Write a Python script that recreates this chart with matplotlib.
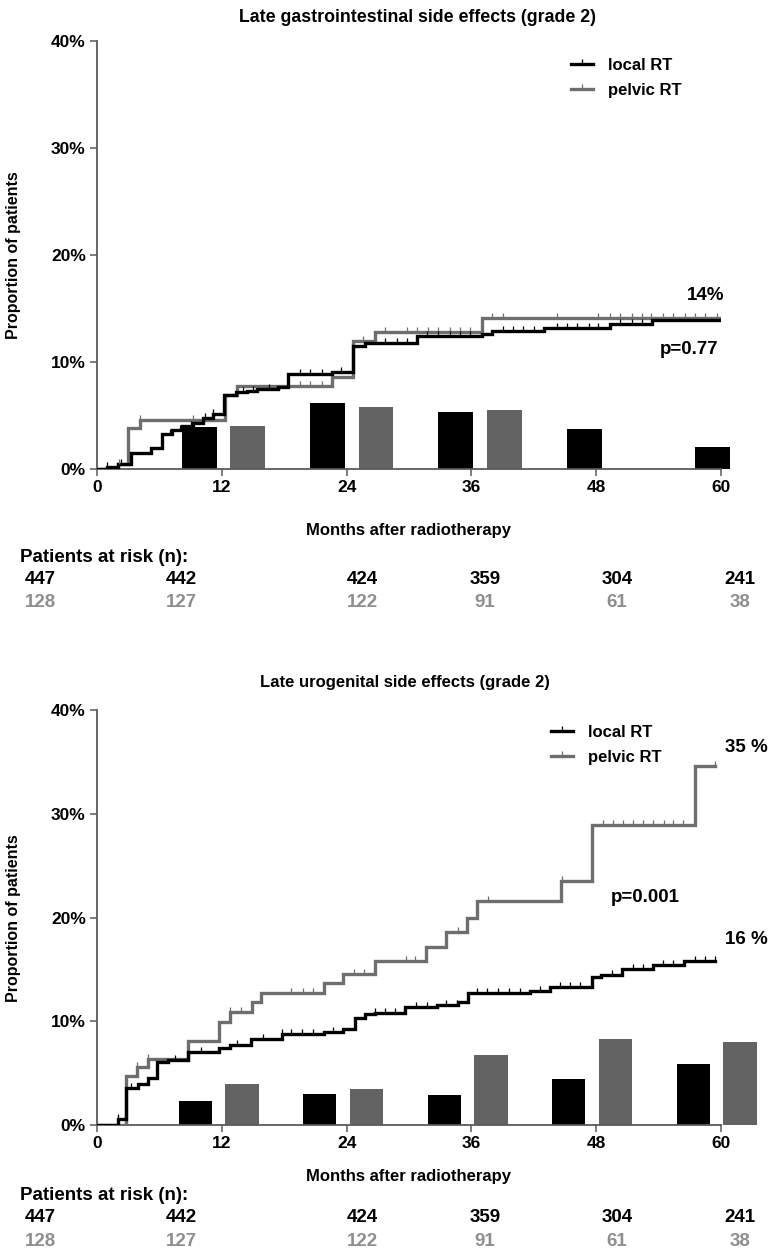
import numpy as np
import matplotlib
matplotlib.use("Agg")
import matplotlib.pyplot as plt
from matplotlib import font_manager
from matplotlib.lines import Line2D

# ---------------- data ----------------
month_ticks = [0, 12, 24, 36, 48, 60]
pct_ticks = [0, 10, 20, 30, 40]
bar_intervals = [12, 24, 36, 48, 60]

# Late GI side effects (grade 2) - cumulative incidence (%)
gi_local_t = [0, 1.0, 2.0, 3.3, 5.2, 6.25, 7.2, 8.2, 9.2, 10.2, 11.2, 12.2, 13.4, 14.4, 15.4, 17.4,
              18.4, 22.6, 24.6, 25.8, 30.8, 37.0, 38.0, 43.0, 49.3, 53.4, 60.0]
gi_local_y = [0, 0.2, 0.5, 1.5, 2.0, 3.3, 3.6, 4.0, 4.3, 4.8, 5.1, 6.9, 7.2, 7.3, 7.5, 7.7,
              8.9, 9.1, 11.5, 11.8, 12.4, 12.6, 12.9, 13.2, 13.55, 13.9, 13.9]
gi_pelvic_t = [0, 2.0, 3.0, 4.1, 12.3, 13.5, 22.6, 24.6, 26.7, 37.0, 60.0]
gi_pelvic_y = [0, 0.5, 3.8, 4.6, 6.9, 7.8, 8.6, 12.0, 12.8, 14.1, 14.1]
gi_local_cens = [1.0, 2.3, 7.0, 8.0, 9.0, 10.4, 11.2, 14.0, 15.0, 16.5, 19.5, 20.5, 21.6, 23.5,
                 27.7, 28.8, 29.8, 31.7, 32.8, 33.9, 34.9, 35.9, 39.0, 40.0, 41.0, 42.0,
                 44.2, 45.2, 46.2, 47.3, 48.2, 50.3, 51.4, 52.4]
gi_pelvic_cens = [2.1, 4.1, 9.2, 19.5, 20.5, 21.6, 25.6, 27.7, 29.8, 30.8, 31.8, 32.8, 33.9,
                  34.9, 35.9, 38.0, 39.0, 44.2, 48.2, 49.3, 50.3, 51.4, 52.4, 53.3, 54.4,
                  55.4, 56.5, 57.5, 58.5, 59.6]
gi_bar_local = [3.9, 6.2, 5.3, 3.7, 2.1]
gi_bar_pelvic = [4.0, 5.8, 5.5]

# Late GU side effects (grade 2)
gu_local_t = [0, 2.0, 2.75, 3.9, 4.9, 5.8, 6.8, 8.75, 11.7, 12.8, 14.8, 17.8, 21.8, 23.7, 24.8,
              25.8, 26.7, 29.6, 32.7, 34.7, 35.7, 41.6, 43.6, 47.6, 48.5, 50.5, 53.5, 56.4, 59.4]
gu_local_y = [0, 0.6, 3.6, 4.0, 4.5, 6.1, 6.25, 7.0, 7.4, 7.7, 8.3, 8.75, 9.0, 9.3, 10.3,
              10.7, 10.8, 11.35, 11.55, 11.9, 12.7, 12.9, 13.3, 14.3, 14.5, 15.0, 15.4, 15.8, 15.8]
gu_pelvic_t = [0, 2.75, 3.8, 4.9, 8.75, 11.7, 12.8, 14.9, 15.8, 21.8, 23.7, 26.7, 31.6, 33.6,
               35.6, 36.5, 44.6, 47.6, 57.5, 59.4]
gu_pelvic_y = [0, 4.7, 5.6, 6.4, 8.1, 9.9, 10.9, 11.9, 12.7, 13.65, 14.6, 15.8, 17.2, 18.6,
               20.0, 21.6, 23.5, 28.9, 34.6, 34.6]
gu_local_cens = [2.0, 3.3, 7.5, 10.0, 13.5, 16.0, 17.8, 18.7, 19.7, 20.8, 22.7, 26.7, 27.7, 28.7,
                 30.7, 31.7, 33.6, 34.6, 36.5, 37.5, 38.6, 39.6, 40.7, 42.6, 44.5, 45.5, 46.4,
                 49.5, 51.5, 52.5, 54.4, 55.4, 57.5, 58.5, 59.4]
gu_pelvic_cens = [3.8, 4.9, 12.8, 13.8, 18.7, 19.8, 20.8, 24.7, 25.7, 29.7, 30.6, 34.7, 37.6,
                  44.7, 48.7, 49.6, 50.6, 51.5, 52.5, 53.5, 54.5, 55.4, 56.3, 59.4]
gu_bar_local = [2.3, 3.0, 2.9, 4.4, 5.9]
gu_bar_pelvic = [4.0, 3.45, 6.7, 8.3, 8.0]

risk_local = [447, 442, 424, 359, 304, 241]
risk_pelvic = [128, 127, 122, 91, 61, 38]

titles = ["Late gastrointestinal side effects (grade 2)", "Late urogenital side effects (grade 2)"]
legend_labels = ["local RT", "pelvic RT"]
gi_end_label, gi_p = "14%", "p=0.77"
gu_end_labels, gu_p = ["35 %", "16 %"], "p=0.001"

# ---------------- style ----------------
W, H = 777, 1255
names = {f.name for f in font_manager.fontManager.ttflist}
NARROW = "Liberation Sans Narrow" if "Liberation Sans Narrow" in names else "Liberation Sans"
REG = "Liberation Sans"
BLACK = "#000000"
GRAY = "#6e6e6e"
BARGRAY = "#636363"
RISKGRAY = "#8f8f8f"
SPINE = "#5a5a5a"
LW = 2.4

fig = plt.figure(figsize=(W / 100, H / 100), dpi=100)


def fx(px):
    return px / W


def fy(py):
    return 1 - py / H


def make_axes(top_px, bottom_px):
    left, right = 97, 721
    return fig.add_axes([fx(left), fy(bottom_px), (right - left) / W, (bottom_px - top_px) / H])


def style_axes(ax):
    ax.set_xlim(0, 60)
    ax.set_ylim(0, 40)
    for s in ["top", "right"]:
        ax.spines[s].set_visible(False)
    for s in ["left", "bottom"]:
        ax.spines[s].set_color(SPINE)
        ax.spines[s].set_linewidth(1.3)
    ax.set_xticks(month_ticks)
    ax.set_yticks(pct_ticks)
    ax.set_yticklabels([f"{v}%" for v in pct_ticks])
    ax.tick_params(axis="both", direction="out", length=5, width=1.1, color=SPINE, pad=3)
    for lab in ax.get_xticklabels() + ax.get_yticklabels():
        lab.set_fontfamily(NARROW)
        lab.set_fontweight("bold")
        lab.set_fontsize(12.5)
    ax.patch.set_alpha(0)


def draw_curve(ax, t, y, cens, color):
    ax.step(t, y, where="post", color=color, lw=LW, zorder=3, solid_joinstyle="miter")
    t_arr = np.asarray(t)
    y_arr = np.asarray(y)
    idx = np.searchsorted(t_arr, cens, side="right") - 1
    ax.plot(cens, y_arr[idx], linestyle="none", marker=2, markersize=3.8, mew=0.9, color=color, zorder=4)


def draw_bars(ax, local_h, pelvic_h, start, step, gap, width):
    xs = [start + step * (m / 12 - 1) for m in bar_intervals]
    ax.bar(xs[:len(local_h)], local_h, width=width, color=BLACK, clip_on=False, zorder=1)
    xp = [x + gap for x in xs]
    ax.bar(xp[:len(pelvic_h)], pelvic_h, width=width, color=BARGRAY, clip_on=False, zorder=1)


def add_legend(ax, x_px, y_px):
    handles = [Line2D([], [], color=BLACK, lw=LW, marker=2, markersize=3.8, mew=0.9),
               Line2D([], [], color=GRAY, lw=LW, marker=2, markersize=3.8, mew=0.9)]
    ax.legend(handles, legend_labels, loc="upper left", bbox_to_anchor=(fx(x_px), fy(y_px)),
              bbox_transform=fig.transFigure, frameon=False, handlelength=1.3, handletextpad=0.9,
              labelspacing=0.62, numpoints=1, borderpad=0, borderaxespad=0,
              prop={"family": REG, "weight": "bold", "size": 12})


def risk_table(zero_px, off_months, off_pat, off_r1, off_r2):
    fig.text(fx(409), fy(zero_px + off_months), "Months after radiotherapy", ha="center", va="center",
             family=NARROW, weight="bold", fontsize=12)
    fig.text(fx(20), fy(zero_px + off_pat), "Patients at risk (n):", ha="left", va="center",
             family=REG, weight="bold", fontsize=13.5)
    xs = [40, 181, 362, 485, 617, 740]
    for x, a, b in zip(xs, risk_local, risk_pelvic):
        fig.text(fx(x), fy(zero_px + off_r1), str(a), ha="center", va="center", family=REG,
                 weight="bold", fontsize=13.5, color=BLACK)
        fig.text(fx(x), fy(zero_px + off_r2), str(b), ha="center", va="center", family=REG,
                 weight="bold", fontsize=13.5, color=RISKGRAY)


# ---------------- top panel ----------------
ax1 = make_axes(41, 469)
style_axes(ax1)
draw_bars(ax1, gi_bar_local, gi_bar_pelvic, 9.85, 12.33, 4.65, 3.35)
draw_curve(ax1, gi_pelvic_t, gi_pelvic_y, gi_pelvic_cens, GRAY)
draw_curve(ax1, gi_local_t, gi_local_y, gi_local_cens, BLACK)
fig.text(fx(418), fy(17), titles[0], ha="center", va="center", family=NARROW, weight="bold", fontsize=12.8)
fig.text(fx(14), fy(255), "Proportion of patients", rotation=90, ha="center", va="center",
         family=REG, weight="bold", fontsize=11.5)
add_legend(ax1, 571, 58)
fig.text(fx(706), fy(295), gi_end_label, ha="center", va="center", family=REG, weight="bold", fontsize=13.5)
fig.text(fx(689), fy(350), gi_p, ha="center", va="center", family=REG, weight="bold", fontsize=13.5)
risk_table(469, 61, 89, 110, 133)

# ---------------- bottom panel ----------------
ax2 = make_axes(710, 1125)
style_axes(ax2)
draw_bars(ax2, gu_bar_local, gu_bar_pelvic, 9.45, 11.97, 4.5, 3.2)
draw_curve(ax2, gu_pelvic_t, gu_pelvic_y, gu_pelvic_cens, GRAY)
draw_curve(ax2, gu_local_t, gu_local_y, gu_local_cens, BLACK)
fig.text(fx(405), fy(682), titles[1], ha="center", va="center", family=REG, weight="bold", fontsize=12)
fig.text(fx(14), fy(918), "Proportion of patients", rotation=90, ha="center", va="center",
         family=REG, weight="bold", fontsize=11.5)
add_legend(ax2, 551, 725)
fig.text(fx(746), fy(748), gu_end_labels[0], ha="center", va="center", family=REG, weight="bold", fontsize=13.5)
fig.text(fx(746), fy(940), gu_end_labels[1], ha="center", va="center", family=REG, weight="bold", fontsize=13.5)
fig.text(fx(645), fy(897), gu_p, ha="center", va="center", family=REG, weight="bold", fontsize=13.5)
risk_table(1125, 52, 70, 93, 117)

fig.savefig("out.png", dpi=100)
